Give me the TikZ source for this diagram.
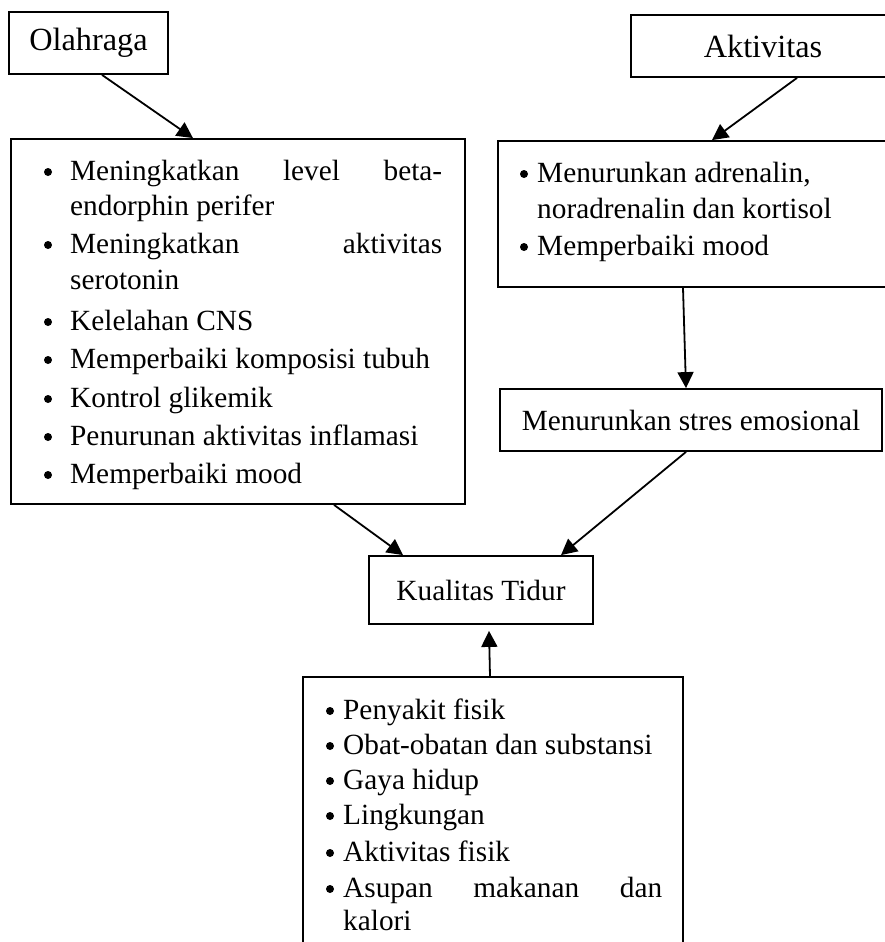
\documentclass[tikz,border=0pt]{standalone}
\usepackage{fontspec}
\setmainfont{Liberation Serif}
\usetikzlibrary{arrows.meta,calc}
\begin{document}
\begin{tikzpicture}[x=1pt,y=-1pt,
  box/.style={draw,line width=1.8pt,inner sep=0pt,rectangle},
  conn/.style={line width=1.8pt,-{Triangle[length=16pt,width=16pt]}},
  txt/.style={anchor=base west,inner sep=0pt},
  bul/.style={circle,fill,inner sep=0pt,minimum size=8pt},
  big/.style={font=\fontsize{32.3}{38}\selectfont},
  every node/.append style={font=\fontsize{29.3}{35}\selectfont}]
\useasboundingbox (0,0) rectangle (885,942);
\clip (0,0) rectangle (885,942);
% boxes
\node[box,big,minimum width=159pt,minimum height=62pt] (olah) at (88.5,43) {Olahraga};
\node[box,big,minimum width=264pt,minimum height=62pt] (akt) at (763,46) {Aktivitas};
\node[box,minimum width=454pt,minimum height=365pt] (left) at (238,321.5) {};
\node[box,minimum width=397pt,minimum height=146pt] (adren) at (696.5,214) {};
\node[box,minimum width=382pt,minimum height=62pt] (stres) at (691,420) {Menurunkan stres emosional};
\node[box,minimum width=224pt,minimum height=68pt] (kual) at (481,590) {Kualitas Tidur};
\node[box,minimum width=380pt,minimum height=286pt] (bot) at (493,820) {};
% left list
\node[bul] (lb1) at (48,172) {};
\node[txt] (lt1) at (70,180) {\hbox to 372pt{Meningkatkan\hfill level\hfill beta-}};
\node[txt] (lt1b) at (70,215) {endorphin perifer};
\node[bul] (lb2) at (48,245) {};
\node[txt] (lt2) at (70,253) {\hbox to 372pt{Meningkatkan\hfill aktivitas}};
\node[txt] (lt2b) at (70,289) {serotonin};
\node[bul] (lb3) at (48,322) {};
\node[txt] (lt3) at (70,330) {Kelelahan CNS};
\node[bul] (lb4) at (48,360) {};
\node[txt] (lt4) at (70,368) {Memperbaiki komposisi tubuh};
\node[bul] (lb5) at (48,399) {};
\node[txt] (lt5) at (70,407) {Kontrol glikemik};
\node[bul] (lb6) at (48,437) {};
\node[txt] (lt6) at (70,445) {Penurunan aktivitas inflamasi};
\node[bul] (lb7) at (48,475) {};
\node[txt] (lt7) at (70,483) {Memperbaiki mood};
% right list
\node[bul] (rb1) at (524,174) {};
\node[txt] (rt1) at (537,182) {Menurunkan adrenalin,};
\node[txt] (rt1b) at (537,218) {noradrenalin dan kortisol};
\node[bul] (rb2) at (524,247) {};
\node[txt] (rt2) at (537,255) {Memperbaiki mood};
% bottom list
\node[bul] (bb1) at (330,711) {};
\node[txt] (bt1) at (343,719) {Penyakit fisik};
\node[bul] (bb2) at (330,746) {};
\node[txt] (bt2) at (343,754) {Obat-obatan dan substansi};
\node[bul] (bb3) at (330,781) {};
\node[txt] (bt3) at (343,789) {Gaya hidup};
\node[bul] (bb4) at (330,816) {};
\node[txt] (bt4) at (343,824) {Lingkungan};
\node[bul] (bb5) at (330,853) {};
\node[txt] (bt5) at (343,861) {Aktivitas fisik};
\node[bul] (bb6) at (330,889) {};
\node[txt] (bt6) at (343,897) {\hbox to 319pt{Asupan\hfill makanan\hfill dan}};
\node[txt] (bt6b) at (343,930) {kalori};
% connectors
\draw[conn] ($(olah.south)+(13.5,0)$) -- ($(left.north)+(-45,0)$);
\draw[conn] ($(akt.south)+(34,0)$) -- ($(adren.north)+(15.5,0)$);
\draw[conn] ($(adren.south)+(-13.5,0)$) -- ($(stres.north)+(-5,0)$);
\draw[conn] ($(stres.south)+(-5,0)$) -- ($(kual.north)+(80,0)$);
\draw[conn] ($(left.south)+(96,0)$) -- ($(kual.north)+(-78,0)$);
\draw[conn] ($(bot.north)+(-3,0)$) -- ($(kual.south)+(8,6)$);
\end{tikzpicture}
\end{document}
